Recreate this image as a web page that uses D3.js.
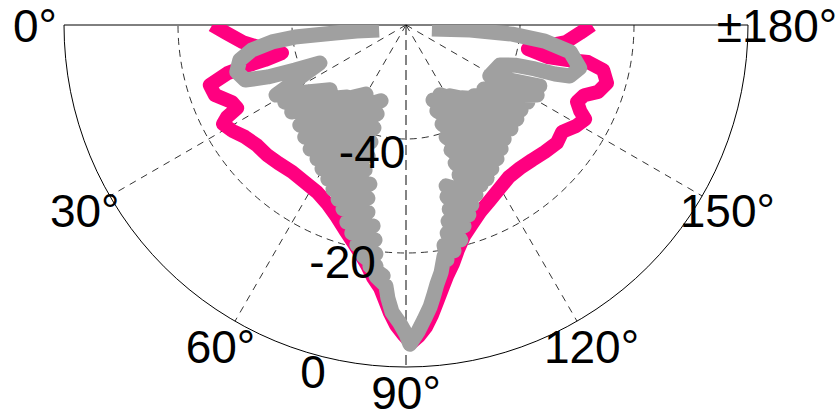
<!DOCTYPE html>
<html>
<head>
<meta charset="utf-8">
<script src="https://cdn.jsdelivr.net/npm/d3@7"></script>
<style>
  body { margin: 0; background: #ffffff; }
  svg { display: block; }
</style>
</head>
<body>
<svg id="chart" width="840" height="418"></svg>
<script>
// ---------------- data (angle in degrees, level in dB) ----------------
const angleTicks  = [0, 30, 60, 90, 120, 150, 180];
const angleLabels = ["0°", "30°", "60°", "90°", "120°", "150°", "±180°"];
const radialTicks  = [-40, -20, 0];
const radialLabels = ["-40", "-20", "0"];
const radialDomain = [-60, 0];

// magenta trace
const pinkSeries = [
  [0,-26.0],[2.5,-28.4],[6.0,-31.2],[9.1,-34.4],[12.7,-37.7],[13.9,-34.5],[14.4,-31.0],
  [15.1,-27.6],[17.0,-24.0],[20.1,-24.3],[23.9,-26.6],[26.2,-27.0],[27.2,-24.7],[28.4,-23.5],
  [31.3,-24.3],[34.8,-25.6],[38.9,-26.4],[43.1,-26.6],[47.2,-27.0],[52.2,-27.4],[57.2,-27.2],
  [61.9,-26.8],[66.1,-25.8],[70.2,-24.2],[73.4,-22.5],[76.3,-20.8],[78.6,-19.2],[80.8,-17.3],
  [82.5,-15.4],[84.4,-13.6],[85.6,-11.6],[86.8,-9.4],[88.1,-7.3],[89.6,-5.6],[90.9,-4.2],
  [92.4,-5.4],[93.8,-6.9],[95.1,-8.9],[96.4,-11.1],[97.8,-13.3],[99.3,-15.4],[101.2,-17.4],
  [103.0,-19.5],[105.4,-21.6],[108.3,-23.2],[111.6,-24.7],[115.6,-25.9],[120.0,-27.0],
  [124.1,-27.8],[128.6,-27.9],[133.0,-27.6],[137.6,-27.0],[142.0,-26.4],[145.6,-26.8],
  [149.3,-25.3],[152.3,-24.5],[153.7,-25.9],[155.8,-27.1],[158.5,-26.4],[160.8,-24.3],
  [163.9,-23.3],[167.1,-24.5],[168.5,-27.4],[167.8,-30.9],[167.3,-34.5],[168.9,-38.2],
  [171.4,-35.3],[173.9,-31.8],[177.4,-29.4],[180,-27.4]
];

// grey trace, read in pieces
const grayLoopLeft = [
  [10.5,-55.2],[7.0,-51.3],[6.4,-47.5],[6.3,-43.9],[6.2,-40.4],[7.2,-36.3],[9.2,-32.6],
  [11.9,-30.2],[15.5,-29.2],[18.9,-30.2],[20.6,-34.1],[22.1,-39.0],[23.8,-43.5]
];
const grayWedgeLeftOuter = [
  [28.3,-34.1],[32.5,-34.8],[37.3,-34.8],[43.3,-34.4],[47.9,-33.5],[52.3,-32.5],[56.4,-31.8],
  [59.7,-30.8],[63.1,-29.7],[66.0,-28.5],[68.7,-27.2],[71.1,-25.9],[73.3,-23.9],[75.4,-22.3],
  [77.4,-20.5],[79.5,-18.8],[81.5,-17.2],[83.2,-15.6]
];
const grayWedgeLeftInner = [
  [40.5,-42.5],[50.7,-43.7],[59.9,-46.0],[71.8,-46.0],[72.0,-43.6],[72.7,-41.1],[73.3,-38.6],
  [73.8,-36.1],[74.2,-33.6],[77.2,-31.4],[77.6,-28.9],[78.5,-26.5],[80.7,-24.3],[81.8,-21.9],
  [82.5,-19.5],[82.9,-17.4],[84.8,-15.8],[85.6,-14.1]
];
const grayTip = [
  [86.2,-12.0],[87.2,-9.6],[88.8,-7.7],[90,-5.8],[90.7,-4.0],[92.2,-6.1],[93.5,-8.2],
  [94.9,-10.4],[95.9,-12.4],[96.8,-14.2]
];
const grayWedgeRightOuter = [
  [98.1,-16.2],[99.9,-18.2],[102.0,-19.5],[104.3,-21.1],[106.1,-23.3],[108.3,-24.9],
  [110.1,-26.4],[112.4,-27.8],[115.1,-29.0],[117.7,-29.5],[120.8,-30.6],[124.2,-31.6],
  [127.5,-32.6],[130.7,-33.6],[135.3,-34.1],[139.7,-34.5],[143.5,-34.9],[147.7,-34.7],
  [151.9,-33.9],[155.5,-34.2]
];
const grayWedgeRightInner = [
  [99.3,-18.8],[99.8,-20.8],[101.2,-22.8],[102.1,-24.8],[103.2,-26.8],[103.4,-29.0],
  [104.0,-30.9],[109.5,-32.1],[109.6,-34.3],[109.8,-36.7],[109.7,-39.1],[110.0,-41.5],
  [109.8,-44.0],[109.8,-46.0],[115.9,-46.4],[121.8,-45.4],[127.5,-43.9],[133.8,-42.8],
  [140.6,-42.3],[148.7,-42.8]
];
const grayLoopRight = [
  [156.9,-42.1],[159.8,-39.6],[161.2,-36.1],[161.8,-32.5],[162.7,-29.9],[166.1,-28.6],
  [170.7,-30.8],[173.4,-35.5],[175.1,-41.3],[175.5,-48.7],[171.3,-55.4]
];

// ---------------- layout ----------------
const cx = 406, cy = 25, R = 342;
const FONT = "'Liberation Sans', Arial, Helvetica, sans-serif";
const PINK = "#ff0080", GRAY = "#a0a0a0";

const svg = d3.select("#chart");
const g = svg.append("g").attr("transform", `translate(${cx},${cy})`);

const rScale = d3.scaleLinear().domain(radialDomain).range([0, R]);
// 0° points left, 90° down, 180° right (d3 radial angle convention)
const aScale = d3.scaleLinear().domain([0, 180]).range([-Math.PI / 2, -3 * Math.PI / 2]);
const pt = (deg, rad) => {
  const a = aScale(deg);
  return [rad * Math.sin(a), -rad * Math.cos(a)];
};

// clip to lower half
svg.append("defs").append("clipPath").attr("id", "half")
  .append("rect").attr("x", -R - 10).attr("y", 0).attr("width", 2 * R + 20).attr("height", R + 20);

// grid rings
radialTicks.forEach(v => {
  const p = d3.path();
  p.arc(0, 0, rScale(v), 0, Math.PI);
  const isOuter = v === radialDomain[1];
  g.append("path").attr("d", p.toString())
    .attr("fill", "none")
    .attr("stroke", "#000")
    .attr("stroke-width", isOuter ? 1 : 0.8)
    .attr("stroke-dasharray", isOuter ? null : "7,5");
});

// spokes
angleTicks.filter(d => d > 0 && d < 180).forEach(d => {
  const [x, y] = pt(d, rScale(radialDomain[1]));
  const main = d === 90;
  g.append("line").attr("x1", 0).attr("y1", 0).attr("x2", x).attr("y2", y)
    .attr("stroke", main ? "#6e6e6e" : "#000")
    .attr("stroke-width", main ? 1.7 : 0.8)
    .attr("stroke-dasharray", main ? "10,5" : "7,6");
});

// diameter line (0° .. 180°)
{
  const [x0, y0] = pt(0, R), [x1, y1] = pt(180, R);
  g.append("line").attr("x1", x0).attr("y1", y0).attr("x2", x1).attr("y2", y1)
    .attr("stroke", "#000").attr("stroke-width", 1);
}

// data traces
const line = d3.lineRadial()
  .angle(d => aScale(d[0]))
  .radius(d => rScale(d[1]))
  .curve(d3.curveLinear);

const zig = (outer, inner) => d3.merge(d3.zip(outer, inner));
const graySeries = [].concat(
  grayLoopLeft,
  zig(grayWedgeLeftOuter, grayWedgeLeftInner),
  grayTip,
  zig(grayWedgeRightOuter, grayWedgeRightInner),
  grayLoopRight
);

const dataG = g.append("g").attr("clip-path", "url(#half)");
dataG.append("path").datum(pinkSeries).attr("d", line)
  .attr("fill", "none").attr("stroke", PINK).attr("stroke-width", 14)
  .attr("stroke-linejoin", "round").attr("stroke-linecap", "butt");
dataG.append("path").datum(graySeries).attr("d", line)
  .attr("fill", "none").attr("stroke", GRAY).attr("stroke-width", 15)
  .attr("stroke-linejoin", "round").attr("stroke-linecap", "butt");

// angle labels
const labR = R * 1.085;
angleTicks.forEach((d, i) => {
  const [x, y] = pt(d, labR);
  g.append("text").attr("x", x).attr("y", d === 90 ? y - 4 : y).attr("dy", "0.36em")
    .attr("text-anchor", "middle")
    .attr("font-family", FONT).attr("font-size", 46).attr("fill", "#000")
    .text(angleLabels[i]);
});

// radial labels
radialTicks.forEach((v, i) => {
  const [x, y] = pt(75, rScale(v) + 17);
  g.append("text").attr("x", x).attr("y", y).attr("dy", "0.36em")
    .attr("text-anchor", "middle")
    .attr("font-family", FONT).attr("font-size", 46).attr("fill", "#000")
    .text(radialLabels[i]);
});
</script>
</body>
</html>
